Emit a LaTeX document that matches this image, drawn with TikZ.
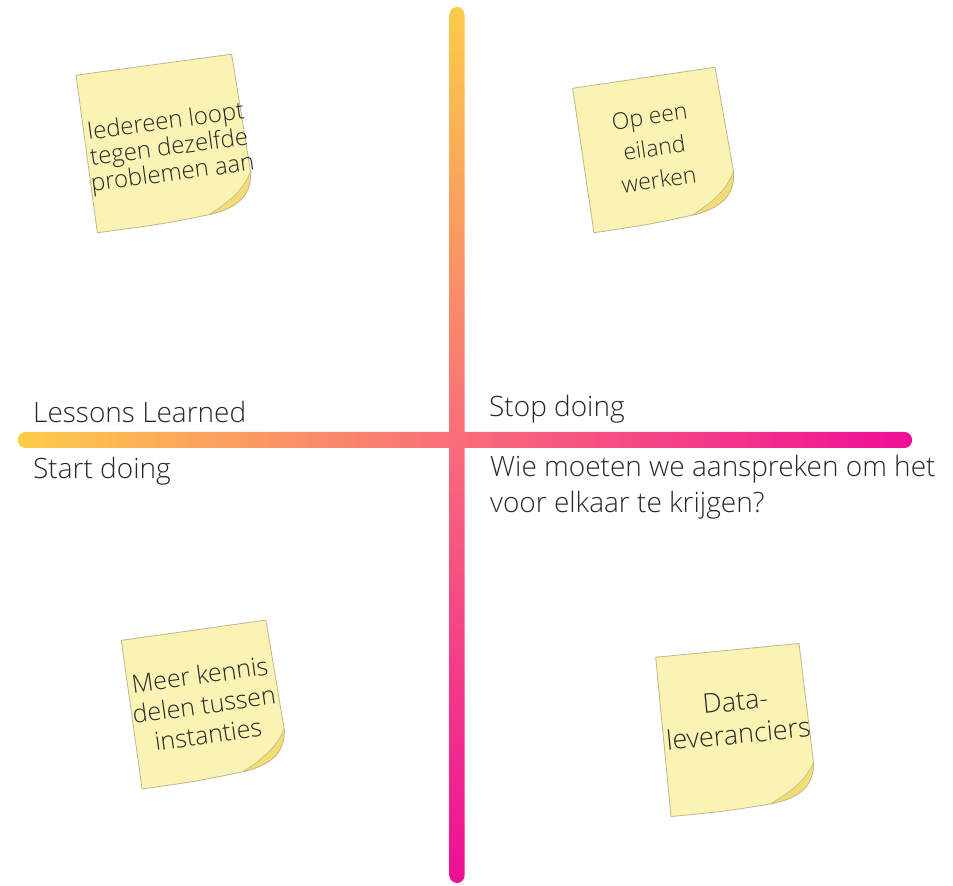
\documentclass[tikz,border=0pt]{standalone}
\usepackage{fontspec}
\setmainfont{Open Sans Light}
\usepackage{tikz}

\definecolor{axisyellow}{RGB}{252,204,72}
\definecolor{axispink}{RGB}{249,108,122}
\definecolor{axismagenta}{RGB}{238,14,150}
\definecolor{notefill}{RGB}{251,243,180}
\definecolor{noteedge}{RGB}{190,182,140}
\definecolor{notecurl}{RGB}{244,220,116}
\definecolor{inkgrey}{RGB}{40,40,40}

\tikzset{
  paper/.style={fill=notefill,draw=noteedge,line width=0.8pt,line join=round},
  curl/.style={fill=notecurl,draw=noteedge,line width=0.6pt,line join=round},
  notetext/.style={align=center,text=inkgrey,inner sep=0pt},
  axislabel/.style={anchor=base west,align=left,text=inkgrey,inner sep=0pt,
                    font=\fontsize{28}{36}\selectfont}
}

% sticky note sheet centred at the origin, #1 = width, #2 = height
\newcommand{\notepaper}[2]{%
  \path[paper] (-#1/2,#2/2) -- (#1/2,#2/2) -- (#1/2+3,-#2/2+40)
    .. controls (#1/2+1,-#2/2+18) and (#1/2-12,-#2/2+6) .. (#1/2-44,-#2/2+3)
    .. controls (#1/2-90,-#2/2) .. (-#1/2,-#2/2) -- cycle;
  \path[curl] (#1/2+3,-#2/2+40)
    .. controls (#1/2+1,-#2/2+18) and (#1/2-12,-#2/2+6) .. (#1/2-44,-#2/2+3)
    .. controls (#1/2-20,-#2/2+14) and (#1/2-6,-#2/2+24) .. (#1/2+3,-#2/2+40) -- cycle;
}

\begin{document}
\begin{tikzpicture}[x=1pt,y=1pt]
            \useasboundingbox (0,0) rectangle (953,886);

            % axes
            \coordinate (vtop) at (449.5,879);
            \coordinate (vbot) at (464.5,3);
            \coordinate (hleft) at (18,438);
            \coordinate (hright) at (912,454);
            \shade[rounded corners=7.5, left color=axisyellow, right color=axismagenta,
                   middle color=axispink] (hleft) rectangle (hright);
            \shade[rounded corners=7.5, top color=axisyellow, bottom color=axismagenta,
                   middle color=axispink] (vtop) rectangle (vbot);

            \node[axislabel] (lessons) at (33,463) {Lessons Learned};
            \node[axislabel] (start) at (33,407) {Start doing};
            \node[axislabel] (stop) at (489,469) {Stop doing};
            \node[axislabel] (whom) at (490,373) {Wie moeten we aanspreken om het\\voor elkaar te krijgen?};

            % sticky notes
            \begin{scope}[shift={(164.5,742.5)}, rotate=7.7, transform shape]
                \notepaper{157}{159}
                \node[notetext, font=\fontsize{24}{26}\selectfont] (iedereen) at (4,-6)
                    {Iedereen loopt\\tegen dezelfde\\problemen aan};
            \end{scope}

            \begin{scope}[shift={(654.5,736)}, rotate=8.4, transform shape]
                \notepaper{144}{146}
                \node[notetext, font=\fontsize{23}{32}\selectfont] (eiland) at (0,2)
                    {Op een\\eiland\\werken};
            \end{scope}

            \begin{scope}[shift={(204,181.5)}, rotate=8, transform shape]
                \notepaper{146}{150}
                \node[notetext, font=\fontsize{25}{30}\selectfont] (kennis) at (0,0)
                    {Meer kennis\\delen tussen\\instanties};
            \end{scope}

            \begin{scope}[shift={(735,156)}, rotate=5.5, transform shape]
                \notepaper{144}{160}
                \node[notetext, font=\fontsize{27}{33}\selectfont] (data) at (3,12)
                    {Data-\\leveranciers};
            \end{scope}
            \end{tikzpicture}
\end{document}
